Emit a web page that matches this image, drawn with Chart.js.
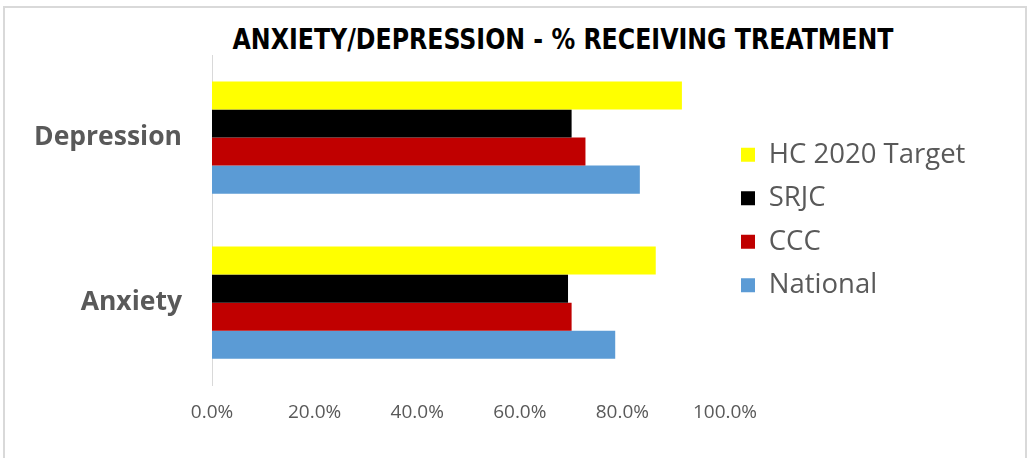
<!DOCTYPE html>
<html>
<head>
<meta charset="utf-8">
<script src="https://cdn.jsdelivr.net/npm/chart.js@4/dist/chart.umd.min.js"></script>
<style>
    html, body { margin: 0; padding: 0; background: #fff; overflow: hidden; }
    .frame {
        position: absolute; left: 3px; top: 6px;
        width: 1020px; height: 460px;
        border: 2px solid #d9d9d9;
    }
    .chartTitle {
        position: absolute; left: 558px; top: 15px;
        transform: translateX(-50%) scaleX(0.94);
        white-space: nowrap;
        font-family: "Liberation Sans Narrow", "DejaVu Sans Condensed", sans-serif;
        font-stretch: condensed; font-weight: bold; font-size: 28px;
        color: #000;
    }
    canvas { position: absolute; left: 0; top: 0; }
</style>
</head>
<body>
<div class="frame">
    <div class="chartTitle">ANXIETY/DEPRESSION - % RECEIVING TREATMENT</div>
    <canvas class="treatmentGraph" width="1020" height="452"></canvas>
</div>
<script>
// Share of students receiving treatment, by condition
const categories = ['Depression', 'Anxiety'];
const seriesNames = ['HC 2020 Target', 'SRJC', 'CCC', 'National'];
const hcTarget = [91.6, 86.5];
const srjc = [70.1, 69.4];
const ccc = [72.8, 70.1];
const national = [83.4, 78.6];
const xTicks = [0, 20, 40, 60, 80, 100];

const seriesColors = ['#ffff00', '#000000', '#c00000', '#5b9bd5'];
const seriesValues = [hcTarget, srjc, ccc, national];

function createTreatmentGraph() {
    const ctx = document.querySelector('.treatmentGraph').getContext('2d');
    return new Chart(ctx, {
        type: 'bar',
        data: {
            labels: categories,
            datasets: seriesNames.map((name, i) => ({
                label: name,
                data: seriesValues[i],
                backgroundColor: seriesColors[i],
                borderWidth: 0,
                categoryPercentage: 0.68,
                barPercentage: 1.0
            }))
        },
        options: {
            indexAxis: 'y',
            responsive: false,
            animation: false,
            layout: {
                padding: { top: 47, right: 60, bottom: 20, left: 0 }
            },
            plugins: {
                title: { display: false },
                tooltip: { enabled: false },
                legend: {
                    position: 'right',
                    fullSize: false,
                    labels: {
                        color: '#595959',
                        font: { family: 'Open Sans', size: 27.5 },
                        boxWidth: 14,
                        boxHeight: 14,
                        padding: 16
                    }
                }
            },
            scales: {
                x: {
                    min: 0,
                    max: 100,
                    afterBuildTicks: scale => {
                        scale.ticks = xTicks.map(v => ({ value: v }));
                    },
                    grid: { display: false, drawTicks: false },
                    border: { display: false },
                    ticks: {
                        color: '#595959',
                        font: { family: 'Open Sans', size: 19 },
                        padding: 16,
                        maxRotation: 0,
                        callback: v => v.toFixed(1) + '%'
                    }
                },
                y: {
                    grid: { display: false, drawTicks: false },
                    border: { display: true, color: '#d9d9d9', width: 1 },
                    afterFit: scale => { scale.width = 207; },
                    ticks: {
                        color: '#595959',
                        font: { family: 'Open Sans', size: 26.5, weight: 'bold' },
                        padding: 30
                    }
                }
            }
        }
    });
}

createTreatmentGraph();
</script>
</body>
</html>
